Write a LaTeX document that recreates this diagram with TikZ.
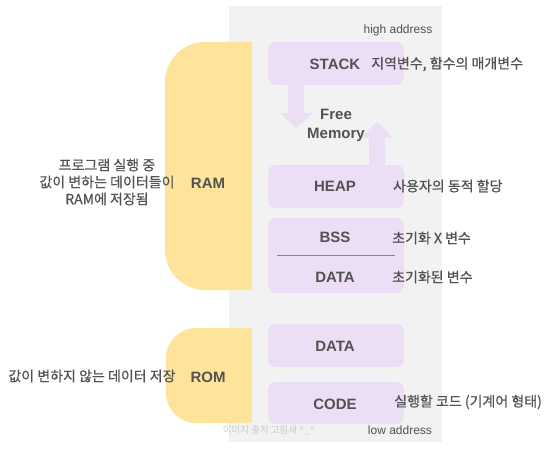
\documentclass[tikz,border=0pt]{standalone}
\usepackage{fontspec}
\setmainfont{Liberation Sans}
\newfontfamily\kr{Noto Sans CJK KR}[FakeBold=0.6]
\newfontfamily\krlight{Noto Sans CJK KR}
\definecolor{memgray}{RGB}{242,242,242}
\definecolor{romyellow}{RGB}{254,228,155}
\definecolor{segpurple}{RGB}{236,222,245}
\definecolor{txtgray}{RGB}{82,82,82}

\begin{document}
\begin{tikzpicture}[x=1pt,y=-1pt,
    seg/.style={fill=segpurple,rounded corners=8pt},
    lbl/.style={text=txtgray,font=\fontsize{15}{19}\selectfont\bfseries,align=center},
    note/.style={text=txtgray,font=\kr\fontsize{14}{16}\selectfont,anchor=west,inner sep=0pt},
    side/.style={text=txtgray,font=\kr\fontsize{14}{17}\selectfont,align=center}]
  \useasboundingbox (0,0) rectangle (548,449);

  % memory column
  \fill[memgray] (229,6) rectangle (442,442);

  % RAM / ROM bands, rounded on the left only
  \begin{scope}
    \clip (0,0) rectangle (252,449);
    \fill[romyellow,rounded corners=40pt] (165,42) rectangle (300,290);
    \fill[romyellow,rounded corners=30pt] (166,328) rectangle (300,423);
  \end{scope}

  % segments
  \fill[seg] (268,42) rectangle (404,85);
  \fill[seg] (268,165) rectangle (404,208);
  \fill[seg] (268,218) rectangle (404,293);
  \fill[seg] (268,324) rectangle (404,367);
  \fill[seg] (268,382) rectangle (404,424);
  \draw[txtgray!70,line width=0.6pt] (277,255) -- (395,255);

  % stack grows down, heap grows up
  \fill[segpurple] (288,85) -- (304,85) -- (304,113) -- (313,113)
    -- (296,128) -- (280,113) -- (288,113) -- cycle;
  \fill[segpurple] (369,165) -- (385,165) -- (385,138) -- (393,138)
    -- (377,122) -- (360,138) -- (369,138) -- cycle;

  \node[text=txtgray,font=\fontsize{12}{14}\selectfont] (high) at (398,30) {high address};
  \node[text=txtgray,font=\fontsize{12}{14}\selectfont] (low) at (400,430) {low address};
  \node[text=black!20,font=\krlight\fontsize{9.5}{11}\selectfont] (src) at (269,430) {이미지 출처 고림새 \^{}\_\^{}};

  \node[lbl] (stack) at (335,64) {STACK};
  \node[lbl] (free) at (336,125) {Free\\Memory};
  \node[lbl] (heap) at (335,186) {HEAP};
  \node[lbl] (bss) at (335,237) {BSS};
  \node[lbl] (data) at (335,277) {DATA};
  \node[lbl] (romdata) at (335,346) {DATA};
  \node[lbl] (code) at (335,404) {CODE};
  \node[lbl] (ram) at (208,183) {RAM};
  \node[lbl] (rom) at (208,377) {ROM};

  \node[note] (stacknote) at (371,64) {지역변수, 함수의 매개변수};
  \node[note] (heapnote) at (393,186) {사용자의 동적 할당};
  \node[note] (bssnote) at (392,238) {초기화 X 변수};
  \node[note] (datanote) at (392,277) {초기화된 변수};
  \node[note] (codenote) at (394,402) {실행할 코드 (기계어 형태)};

  \node[side] (ramnote) at (107,182) {프로그램 실행 중\\값이 변하는 데이터들이\\RAM에 저장됨};
  \node[side] (romnote) at (92,376) {값이 변하지 않는 데이터 저장};
\end{tikzpicture}
\end{document}
